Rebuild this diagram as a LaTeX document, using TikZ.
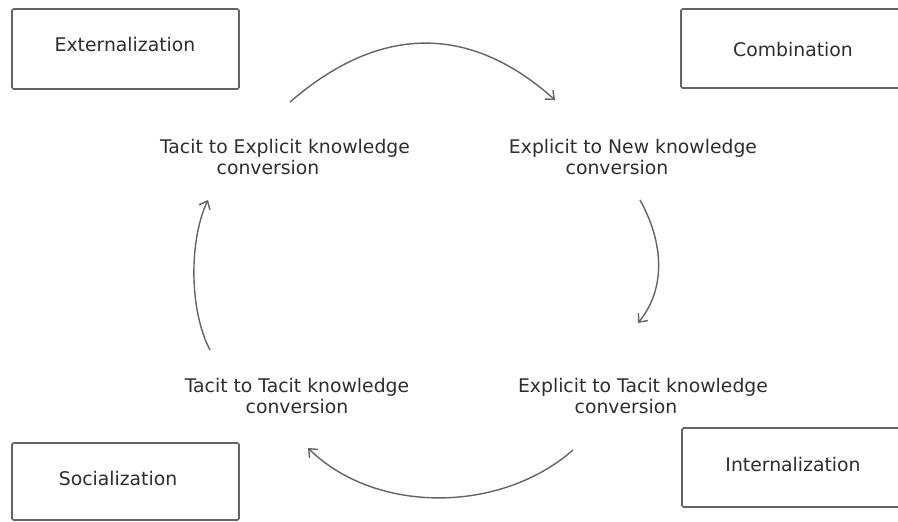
\documentclass[tikz,border=0pt]{standalone}
\usepackage{fontspec}
\setmainfont{DejaVu Sans}
\usetikzlibrary{arrows.meta}
\definecolor{linegray}{HTML}{646464}
\definecolor{textgray}{HTML}{2E2E2E}
\begin{document}
\begin{tikzpicture}[x=1pt,y=-1pt,
  boxnode/.style={draw=linegray, line width=1.7pt, rectangle, rounded corners=1.5pt, inner sep=0pt},
  txt/.style={text=textgray, font=\fontsize{18.8}{21.5}\selectfont, inner sep=0pt, align=center},
  cyclearrow/.style={draw=linegray, line width=1.4pt, -{Straight Barb[length=7pt,width=12pt]}}]
\useasboundingbox (0,0) rectangle (898,522);
\fill[white] (0,0) rectangle (898,522);
% boxes
\node[boxnode, minimum width=227pt, minimum height=80pt] (extbox) at (125.5,49) {};
\node[boxnode, minimum width=222pt, minimum height=79pt] (combox) at (792,48.5) {};
\node[boxnode, minimum width=227pt, minimum height=77pt] (socbox) at (125.5,481.5) {};
\node[boxnode, minimum width=222pt, minimum height=79pt] (intbox) at (793,467.5) {};
% box texts
\node[txt] (exttext) at (125,44) {Externalization};
\node[txt] (comtext) at (793,49) {Combination};
\node[txt] (soctext) at (118,478) {Socialization};
\node[txt] (inttext) at (793,464) {Internalization};
% labels
\node[txt] (te) at (285,157) {Tacit to Explicit knowledge\\conversion\hspace*{34pt}};
\node[txt] (en) at (633,157) {Explicit to New knowledge\\conversion\hspace*{32pt}};
\node[txt] (tt) at (297,396) {Tacit to Tacit knowledge\\conversion};
\node[txt] (et) at (643,396) {Explicit to Tacit knowledge\\conversion\hspace*{34pt}};
% arrow end points
\coordinate (a1s) at (290,102);
\coordinate (a1e) at (555,100);
\coordinate (a2s) at (640,200);
\coordinate (a2e) at (638,323);
\coordinate (a3s) at (573,450);
\coordinate (a3e) at (308,448);
\coordinate (a4s) at (210,350);
\coordinate (a4e) at (208,200);
\draw[cyclearrow] (a1s) .. controls (380,24) and (470,24) .. (a1e);
\draw[cyclearrow] (a2s) .. controls (665,245) and (665,290) .. (a2e);
\draw[cyclearrow] (a3s) .. controls (500,514) and (375,514) .. (a3e);
\draw[cyclearrow] (a4s) .. controls (189,310) and (189,240) .. (a4e);
\end{tikzpicture}
\end{document}
